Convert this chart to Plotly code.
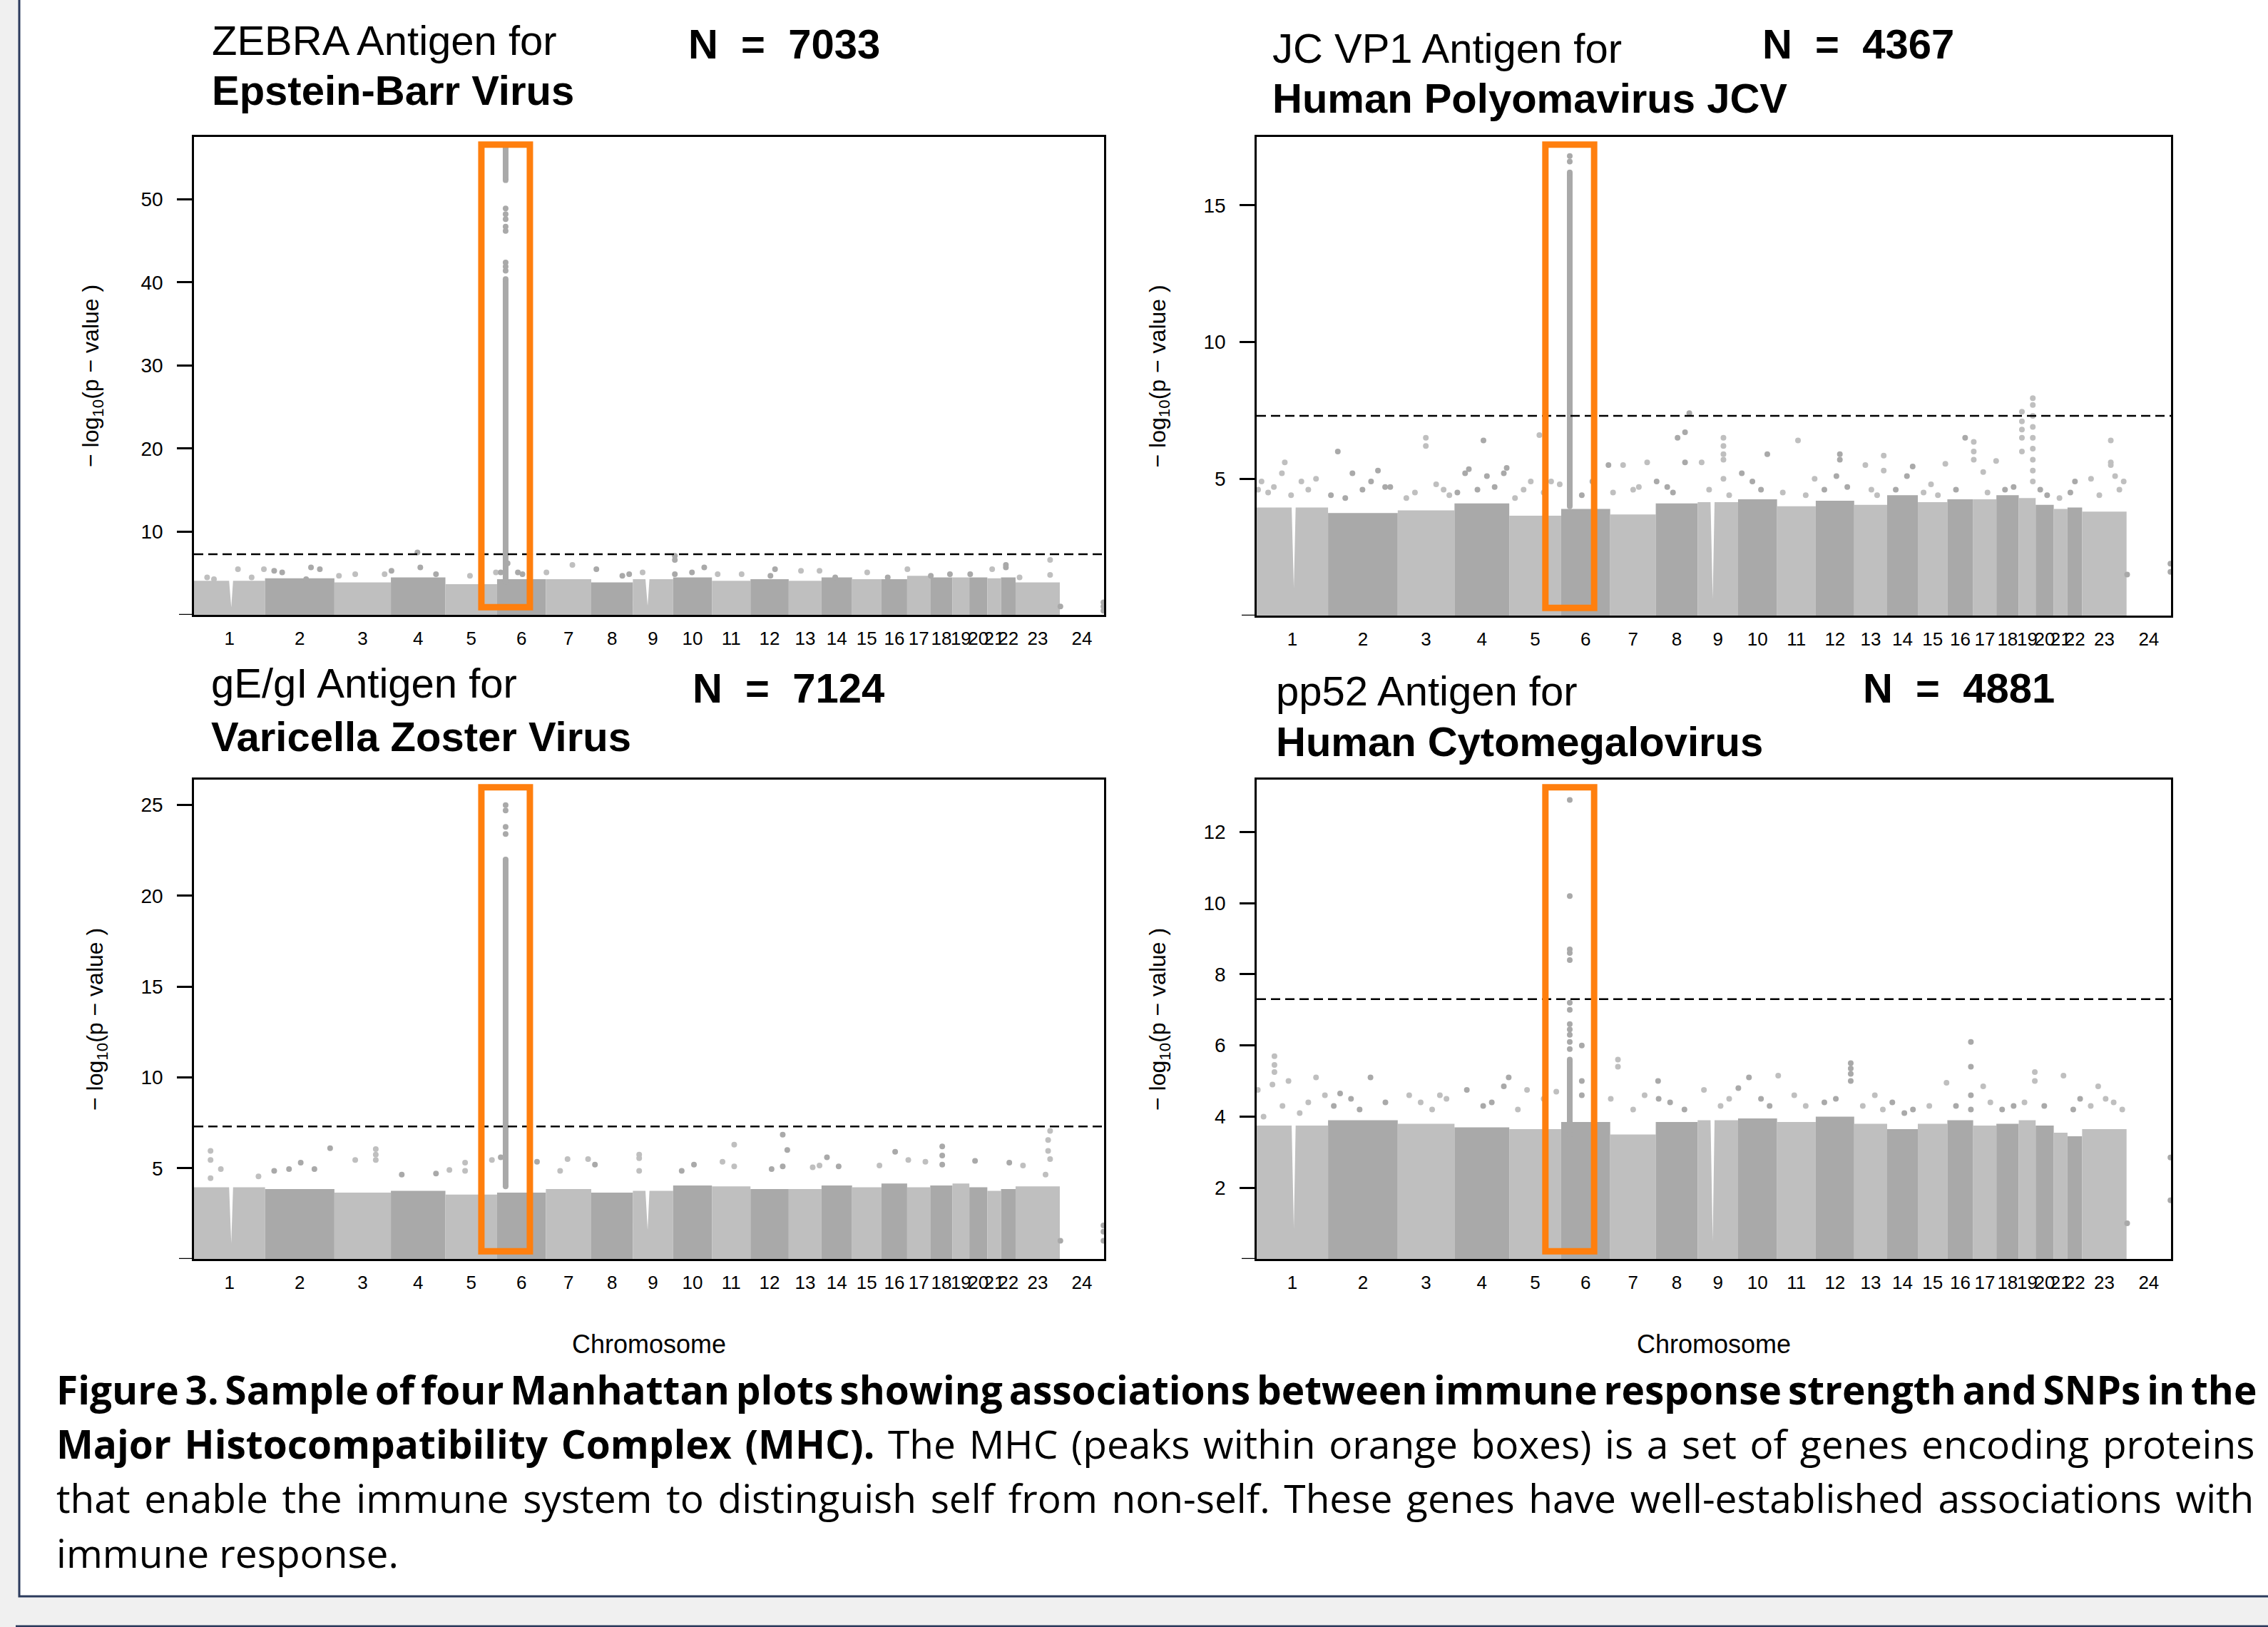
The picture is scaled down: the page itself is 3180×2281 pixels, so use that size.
import plotly.graph_objects as go

W, H = 3180, 2281

# ---------------- data ----------------
chrom_labels = ["1", "2", "3", "4", "5", "6", "7", "8", "9", "10", "11", "12",
                "13", "14", "15", "16", "17", "18", "19", "20", "21", "22", "23", "24"]
chrom_lengths_mb = [249, 243, 198, 191, 181, 171, 159, 146, 141, 136, 135, 134,
                    115, 107, 103, 90, 81, 78, 59, 63, 48, 51, 155, 155]

threshold = 7.3          # genome-wide significance, -log10(5e-8)
mhc_chrom = 6
mhc_pos_mb = 30

# Panel A: ZEBRA / EBV
zebra_band = [4.1, 4.4, 3.9, 4.5, 3.7, 4.3, 4.3, 3.9, 4.3, 4.5, 4.1, 4.3,
              4.1, 4.5, 4.3, 4.3, 4.7, 4.5, 4.5, 4.5, 4.4, 4.5, 3.9, 0]
zebra_notches = [(1, 130, 0.9), (9, 51, 1.1)]
zebra_mhc_dense = [(4.0, 40.4), (52.3, 56.4)]
zebra_points = [
    (1, 46, 4.5), (1, 70, 4.3), (1, 154, 5.5), (1, 202, 4.5), (1, 245, 5.5),
    (2, 32, 5.3), (2, 60, 5.1), (2, 144, 4.3), (2, 161, 5.7), (2, 192, 5.5),
    (3, 16, 4.7), (3, 73, 4.9), (3, 176, 4.9),
    (4, 2, 5.3), (4, 93, 7.5), (4, 103, 5.7), (4, 158, 4.9),
    (5, 86, 4.7), (5, 177, 5.1),
    (6, 13, 5.1), (6, 37, 6.2), (6, 73, 5.1), (6, 89, 4.9),
    (6, 30, 41.4), (6, 30, 41.9), (6, 30, 42.4), (6, 30, 46.2), (6, 30, 46.7),
    (6, 30, 47.6), (6, 30, 48.2), (6, 30, 48.9),
    (7, 2, 5.1), (7, 93, 6.0),
    (8, 18, 5.5), (8, 109, 4.7), (8, 133, 4.9),
    (9, 34, 5.1),
    (10, 6, 7.1), (10, 6, 6.6), (10, 6, 4.9), (10, 66, 5.1), (10, 109, 5.7),
    (11, 20, 4.9), (11, 104, 4.9),
    (12, 70, 4.7), (12, 86, 5.5),
    (13, 43, 5.3), (13, 108, 5.3),
    (14, 48, 4.5), (15, 53, 5.1), (16, 22, 4.5), (17, 1, 5.5),
    (18, 2, 4.7), (18, 69, 4.9), (20, 3, 4.9), (21, 17, 5.5),
    (22, 17, 5.7), (22, 17, 6.0),
    (23, 14, 4.5), (23, 121, 6.6), (23, 121, 4.8),
    (24, 2, 1.0), (24, 153, 1.5), (24, 153, 1.0), (24, 153, 0.5),
]

# Panel B: JC VP1 / JCV
jcv_band = [3.95, 3.75, 3.85, 4.1, 3.65, 3.9, 3.7, 4.1, 4.15, 4.25, 4.0, 4.2,
            4.05, 4.4, 4.15, 4.25, 4.25, 4.4, 4.3, 4.05, 3.9, 3.95, 3.8, 0]
jcv_notches = [(1, 129, 1.0), (9, 52, 0.6)]
jcv_mhc_dense = [(4.0, 16.2)]
jcv_points = [
    (1, 17, 4.9), (1, 88, 5.2), (1, 98, 5.6), (1, 156, 4.9), (1, 207, 5.0),
    (1, 5, 4.6), (1, 40, 4.5), (1, 60, 4.7), (1, 120, 4.4), (1, 180, 4.6),
    (2, 34, 6.0), (2, 85, 5.2), (2, 174, 5.3), (2, 199, 4.7), (2, 217, 4.7),
    (2, 10, 4.4), (2, 60, 4.3), (2, 120, 4.6), (2, 150, 4.9),
    (3, 98, 6.5), (3, 98, 6.2), (3, 134, 4.8),
    (3, 30, 4.3), (3, 60, 4.5), (3, 160, 4.6), (3, 180, 4.4),
    (4, 37, 5.2), (4, 50, 5.35), (4, 101, 6.4), (4, 113, 5.1), (4, 172, 5.2), (4, 182, 5.4),
    (4, 10, 4.5), (4, 80, 4.6), (4, 140, 4.7),
    (5, 75, 4.9), (5, 105, 6.6), (5, 146, 4.9), (5, 176, 4.8),
    (5, 20, 4.3), (5, 50, 4.6), (5, 120, 4.5),
    (6, 72, 4.4), (6, 109, 4.9), (6, 165, 5.5),
    (6, 30, 16.6), (6, 30, 16.8),
    (7, 45, 5.5), (7, 129, 5.6), (7, 10, 4.5), (7, 80, 4.6), (7, 100, 4.7),
    (8, 3, 4.9), (8, 76, 6.5), (8, 102, 6.7), (8, 102, 5.6), (8, 117, 7.4),
    (8, 40, 4.7), (8, 60, 4.5),
    (9, 14, 5.6), (9, 90, 6.5), (9, 90, 6.2), (9, 90, 5.9), (9, 90, 5.7), (9, 90, 5.0),
    (9, 40, 4.6), (9, 110, 4.4),
    (10, 13, 5.2), (10, 102, 5.9), (10, 50, 4.9), (10, 80, 4.6),
    (11, 73, 6.4), (11, 131, 5.0), (11, 20, 4.5), (11, 100, 4.4),
    (12, 72, 5.1), (12, 84, 5.9), (12, 84, 5.7), (12, 30, 4.6), (12, 110, 4.7),
    (13, 39, 5.5), (13, 103, 5.85), (13, 103, 5.3), (13, 60, 4.6), (13, 80, 4.4),
    (14, 69, 5.1), (14, 89, 5.45), (14, 30, 4.6),
    (15, 46, 4.8), (15, 96, 5.55), (15, 20, 4.5), (15, 70, 4.4),
    (16, 62, 6.5), (16, 30, 4.6),
    (17, 2, 6.35), (17, 2, 6.0), (17, 2, 5.7), (17, 35, 5.25), (17, 80, 5.65), (17, 50, 4.5),
    (18, 30, 4.6), (18, 60, 4.7),
    (19, 11, 7.45), (19, 11, 7.1), (19, 11, 6.8), (19, 11, 6.5), (19, 11, 6.0),
    (19, 49, 7.95), (19, 49, 7.7), (19, 49, 7.3), (19, 49, 6.9), (19, 49, 6.5),
    (19, 49, 6.1), (19, 49, 5.7), (19, 49, 5.3), (19, 49, 4.9),
    (20, 16, 4.6), (20, 40, 4.4), (21, 20, 4.3), (22, 26, 4.9), (22, 10, 4.5),
    (23, 31, 5.0), (23, 100, 6.4), (23, 100, 5.6), (23, 100, 5.5), (23, 115, 5.1), (23, 145, 4.9),
    (23, 60, 4.4), (23, 130, 4.6),
    (24, 2, 1.5), (24, 153, 1.9), (24, 153, 1.6),
]

# Panel C: gE/gI / VZV
vzv_band = [3.95, 3.85, 3.65, 3.75, 3.55, 3.65, 3.85, 3.65, 3.75, 4.05, 4.0, 3.85,
            3.85, 4.05, 3.95, 4.15, 3.95, 4.05, 4.15, 3.95, 3.75, 3.85, 4.0, 0]
vzv_notches = [(1, 130, 0.85), (9, 51, 1.6)]
vzv_mhc_dense = [(4.0, 22.0)]
vzv_points = [
    (1, 58, 5.95), (1, 58, 5.45), (1, 58, 4.45), (1, 94, 4.95), (1, 226, 4.55),
    (2, 32, 4.85), (2, 84, 4.95), (2, 125, 5.3), (2, 173, 4.95), (2, 228, 6.1),
    (3, 73, 5.45), (3, 145, 6.05), (3, 145, 5.75), (3, 145, 5.45),
    (4, 38, 4.65), (4, 158, 4.7),
    (5, 14, 4.9), (5, 69, 5.3), (5, 69, 4.85), (5, 163, 5.45),
    (6, 13, 5.6), (6, 140, 5.35),
    (6, 30, 23.4), (6, 30, 23.8), (6, 30, 24.7), (6, 30, 25.0),
    (7, 50, 4.85), (7, 76, 5.5), (7, 148, 5.5),
    (8, 13, 5.2),
    (9, 22, 5.75), (9, 22, 5.55), (9, 22, 4.85),
    (10, 30, 4.85), (10, 73, 5.2),
    (11, 37, 5.35), (11, 78, 6.3), (11, 78, 5.1),
    (12, 74, 4.95), (12, 113, 6.85), (12, 113, 5.1), (12, 129, 6.0),
    (13, 84, 5.05), (13, 108, 5.15),
    (14, 19, 5.6), (14, 60, 5.1),
    (15, 96, 5.15), (16, 48, 5.9),
    (17, 4, 5.45), (17, 64, 5.35),
    (18, 42, 6.2), (18, 42, 5.7), (18, 42, 5.2),
    (20, 20, 5.4), (22, 29, 5.3),
    (23, 26, 5.15), (23, 114, 6.55), (23, 121, 7.05), (23, 114, 5.95), (23, 121, 5.5), (23, 105, 4.65),
    (24, 2, 1.0), (24, 153, 1.85), (24, 153, 1.5), (24, 153, 1.0),
]

# Panel D: pp52 / CMV
cmv_band = [3.75, 3.9, 3.8, 3.7, 3.65, 3.85, 3.5, 3.85, 3.9, 3.95, 3.85, 4.0,
            3.8, 3.65, 3.8, 3.9, 3.75, 3.8, 3.9, 3.75, 3.55, 3.45, 3.65, 0]
cmv_notches = [(1, 129, 0.85), (9, 52, 0.5)]
cmv_mhc_dense = [(3.5, 5.6)]
cmv_points = [
    (1, 4, 4.75), (1, 24, 4.0), (1, 62, 5.7), (1, 62, 5.45), (1, 62, 5.25), (1, 55, 4.9),
    (1, 111, 5.0), (1, 207, 5.1), (1, 238, 4.6), (1, 90, 4.3), (1, 150, 4.1), (1, 180, 4.4),
    (2, 42, 4.65), (2, 148, 5.1), (2, 20, 4.3), (2, 80, 4.5), (2, 110, 4.2), (2, 200, 4.4),
    (3, 40, 4.6), (3, 147, 4.6), (3, 80, 4.4), (3, 120, 4.2), (3, 170, 4.5),
    (4, 43, 4.75), (4, 172, 4.85), (4, 189, 5.1), (4, 100, 4.3), (4, 130, 4.4),
    (5, 62, 4.75), (5, 164, 4.7), (5, 30, 4.2), (5, 120, 4.5),
    (6, 72, 6.0), (6, 72, 5.0), (6, 72, 4.6),
    (6, 30, 12.9), (6, 30, 10.2), (6, 30, 8.7), (6, 30, 8.6), (6, 30, 8.4), (6, 30, 7.2),
    (6, 30, 7.0), (6, 30, 6.6), (6, 30, 6.45), (6, 30, 6.3), (6, 30, 6.1), (6, 30, 5.9),
    (7, 27, 5.6), (7, 27, 5.4), (7, 2, 4.5), (7, 80, 4.2), (7, 120, 4.6),
    (8, 8, 5.0), (8, 10, 4.5), (8, 50, 4.4), (8, 100, 4.2),
    (9, 22, 4.75), (9, 80, 4.3), (9, 110, 4.5),
    (10, 1, 4.8), (10, 38, 5.1), (10, 80, 4.5), (10, 110, 4.3),
    (11, 4, 5.15), (11, 60, 4.6), (11, 100, 4.3),
    (12, 122, 5.5), (12, 122, 5.35), (12, 122, 5.2), (12, 122, 5.0), (12, 30, 4.4), (12, 70, 4.5),
    (13, 72, 4.6), (13, 30, 4.3), (13, 100, 4.2),
    (14, 18, 4.4), (14, 60, 4.1), (14, 90, 4.2),
    (15, 100, 4.95), (15, 40, 4.3),
    (16, 82, 6.1), (16, 82, 5.4), (16, 82, 4.6), (16, 82, 4.2), (16, 30, 4.3),
    (17, 35, 4.85), (17, 60, 4.4),
    (18, 20, 4.2), (18, 60, 4.3),
    (19, 56, 5.25), (19, 56, 5.0), (19, 20, 4.4),
    (20, 30, 4.3), (21, 34, 5.15), (22, 44, 4.5), (22, 20, 4.2),
    (23, 56, 4.85), (23, 82, 4.5), (23, 30, 4.3), (23, 110, 4.4), (23, 140, 4.2),
    (24, 2, 1.0), (24, 153, 2.85), (24, 153, 1.65),
]

# titles
panel_antigen = ["ZEBRA Antigen for", "JC VP1 Antigen for", "gE/gI Antigen for", "pp52 Antigen for"]
panel_virus = ["Epstein-Barr Virus", "Human Polyomavirus JCV", "Varicella Zoster Virus", "Human Cytomegalovirus"]
panel_n = [7033, 4367, 7124, 4881]
panel_yticks = [[10, 20, 30, 40, 50], [5, 10, 15], [5, 10, 15, 20, 25], [2, 4, 6, 8, 10, 12]]
panel_ymax = [57.5, 17.5, 26.4, 13.47]

caption_lines = [
    "<b>Figure 3. Sample of four Manhattan plots showing associations between immune response strength and SNPs in the</b>",
    "<b>Major Histocompatibility Complex (MHC).</b> The MHC (peaks within orange boxes) is a set of genes encoding proteins",
    "that enable the immune system to distinguish self from non-self. These genes have well-established associations with",
    "immune response.",
]

# ---------------- styling / layout ----------------
LIGHT = "#BFBFBF"
DARK = "#A9A9A9"
ORANGE = "#FF7F0E"
NAVY = "#2B3A5C"
PLOT_FONT = "Liberation Sans, Arial, sans-serif"
CAP_FONT = "Open Sans, sans-serif"

offsets = []
acc = 0
for L in chrom_lengths_mb:
    offsets.append(acc)
    acc += L
genome_total = acc
centers = [o + L / 2 for o, L in zip(offsets, chrom_lengths_mb)]
chrom_color = [LIGHT if i % 2 == 0 else DARK for i in range(len(chrom_labels))]
mhc_x = offsets[mhc_chrom - 1] + mhc_pos_mb

bands = [zebra_band, jcv_band, vzv_band, cmv_band]
notches = [zebra_notches, jcv_notches, vzv_notches, cmv_notches]
denses = [zebra_mhc_dense, jcv_mhc_dense, vzv_mhc_dense, cmv_mhc_dense]
points = [zebra_points, jcv_points, vzv_points, cmv_points]

# pixel geometry of the four frames: (left, right, top, bottom)
frames = [(272, 1548, 192, 862), (1762, 3044, 192, 863),
          (272, 1548, 1093, 1765), (1762, 3044, 1093, 1765)]
# title geometry: (x line1/2, y line1 center, y line2 center, x N, y N center)
title_geo = [(295, 57, 127, 963, 62), (1782, 67, 137, 2469, 62),
             (294, 958, 1032, 969, 965), (1787, 968, 1039, 2610, 965)]
ytitle_x = [130, 1625, 135, 1625]
TICKLEN = 21


def px(x):
    return x / W


def py(y):
    return 1 - y / H


fig = go.Figure()
layout = dict(
    width=W, height=H, margin=dict(l=0, r=0, t=0, b=0),
    paper_bgcolor="#F0F0F0", plot_bgcolor="rgba(0,0,0,0)",
    showlegend=False, hovermode=False,
    shapes=[], annotations=[],
)

# page box
layout["shapes"].append(dict(type="rect", xref="paper", yref="paper", layer="below",
                             x0=px(27), x1=px(3300), y0=py(2238), y1=py(-20),
                             fillcolor="white", line=dict(color=NAVY, width=3)))
layout["shapes"].append(dict(type="line", xref="paper", yref="paper", layer="below",
                             x0=px(22), x1=px(3300), y0=py(2280), y1=py(2280),
                             line=dict(color=NAVY, width=3)))

for i in range(4):
    k = "" if i == 0 else str(i + 1)
    xa, ya = "x" + k, "y" + k
    l, r, t, b = frames[i]

    # dense SNP band, one filled block per chromosome
    for c in range(len(chrom_labels)):
        h = bands[i][c]
        if h <= 0:
            continue
        s = offsets[c]
        e = s + chrom_lengths_mb[c]
        xs, ys = [s, s], [0, h]
        for nc, npos, nd in notches[i]:
            if nc == c + 1:
                xs += [s + npos - 7, s + npos - 0.6, s + npos + 0.6, s + npos + 7]
                ys += [h, nd, nd, h]
        xs += [e, e]
        ys += [h, 0]
        fig.add_trace(go.Scatter(x=xs, y=ys, fill="toself", fillcolor=chrom_color[c],
                                 mode="lines", line=dict(width=0, color=chrom_color[c]),
                                 xaxis=xa, yaxis=ya, hoverinfo="skip"))
    for lo, hi in denses[i]:
        fig.add_trace(go.Scatter(x=[mhc_x, mhc_x], y=[lo, hi], mode="lines+markers",
                                 line=dict(color=DARK, width=8),
                                 marker=dict(color=DARK, size=8),
                                 xaxis=xa, yaxis=ya, hoverinfo="skip"))
    pts = points[i]
    fig.add_trace(go.Scatter(
        x=[offsets[c - 1] + p for c, p, v in pts],
        y=[v for c, p, v in pts],
        mode="markers",
        marker=dict(size=8, color=[chrom_color[c - 1] for c, p, v in pts], line=dict(width=0)),
        xaxis=xa, yaxis=ya, hoverinfo="skip"))

    yt = panel_yticks[i]
    layout["xaxis" + k] = dict(
        domain=[px(l), px(r)], anchor=ya, range=[0, genome_total],
        tickmode="array", tickvals=centers, ticktext=chrom_labels, tickangle=0,
        ticks="", showgrid=False, zeroline=False,
        showline=True, mirror=True, linewidth=2.5, linecolor="black",
        tickfont=dict(family=PLOT_FONT, size=26, color="black"),
        ticklabelstandoff=8,
    )
    layout["yaxis" + k] = dict(
        domain=[py(b), py(t)], anchor=xa, range=[0, panel_ymax[i]],
        tickmode="array", tickvals=yt, ticktext=[str(v) for v in yt],
        ticks="outside", ticklen=TICKLEN, tickwidth=2.5, tickcolor="black",
        showgrid=False, zeroline=False,
        showline=True, mirror=True, linewidth=2.5, linecolor="black",
        tickfont=dict(family=PLOT_FONT, size=28, color="black"),
        ticklabelstandoff=14,
    )
    # tick mark at y = 0 (unlabelled)
    layout["shapes"].append(dict(type="line", xref="paper", yref=ya,
                                 x0=px(l - TICKLEN), x1=px(l), y0=0, y1=0,
                                 line=dict(color="black", width=2.5)))

    # significance line
    layout["shapes"].append(dict(type="line", xref=xa + " domain", yref=ya,
                                 x0=0, x1=1, y0=threshold, y1=threshold,
                                 line=dict(color="black", width=2.5, dash="13px,7px")))
    # orange MHC box
    layout["shapes"].append(dict(type="rect", xref=xa, yref=ya + " domain",
                                 x0=mhc_x - 85, x1=mhc_x + 85, y0=0.016, y1=0.984,
                                 line=dict(color=ORANGE, width=9)))

    # titles
    tx, ty1, ty2, nx, ny = title_geo[i]
    layout["annotations"].append(dict(
        text=panel_antigen[i], xref="paper", yref="paper", x=px(tx), y=py(ty1),
        xanchor="left", yanchor="middle", showarrow=False,
        font=dict(family=PLOT_FONT, size=58, color="black")))
    layout["annotations"].append(dict(
        text="<b>" + panel_virus[i] + "</b>", xref="paper", yref="paper", x=px(tx), y=py(ty2),
        xanchor="left", yanchor="middle", showarrow=False,
        font=dict(family=PLOT_FONT, size=58, color="black")))
    layout["annotations"].append(dict(
        text="<b>N\u00a0\u00a0=\u00a0\u00a0" + str(panel_n[i]) + "</b>", xref="paper", yref="paper",
        x=px(nx), y=py(ny), xanchor="left", yanchor="middle", showarrow=False,
        font=dict(family=PLOT_FONT, size=58, color="black")))
    # y-axis title
    layout["annotations"].append(dict(
        text="\u2212 log<sub>10</sub>(p \u2212 value )", xref="paper", yref="paper",
        x=px(ytitle_x[i]), y=py((t + b) / 2), xanchor="center", yanchor="middle",
        textangle=-90, showarrow=False,
        font=dict(family=PLOT_FONT, size=32, color="black")))

# x-axis titles under bottom row
for cx in (910, 2403):
    layout["annotations"].append(dict(
        text="Chromosome", xref="paper", yref="paper", x=px(cx), y=py(1885),
        xanchor="center", yanchor="middle", showarrow=False,
        font=dict(family=PLOT_FONT, size=36, color="black")))

# caption (justified look via word spacing)
cap_baselines = [1968, 2044, 2120, 2197]
cap_word_spacing = ["-5.5px", "4.4px", "5.4px", "0px"]
for line, base, ws in zip(caption_lines, cap_baselines, cap_word_spacing):
    layout["annotations"].append(dict(
        text='<span style="word-spacing:' + ws + '">' + line + "</span>",
        xref="paper", yref="paper", x=px(77), y=py(base - 21),
        xanchor="left", yanchor="middle", showarrow=False,
        font=dict(family=CAP_FONT, size=55, color="black")))

fig.update_layout(**layout)
fig.write_html("out.html", config={"displayModeBar": False},
               post_script="document.body.style.margin='0';document.body.style.overflow='hidden';")
